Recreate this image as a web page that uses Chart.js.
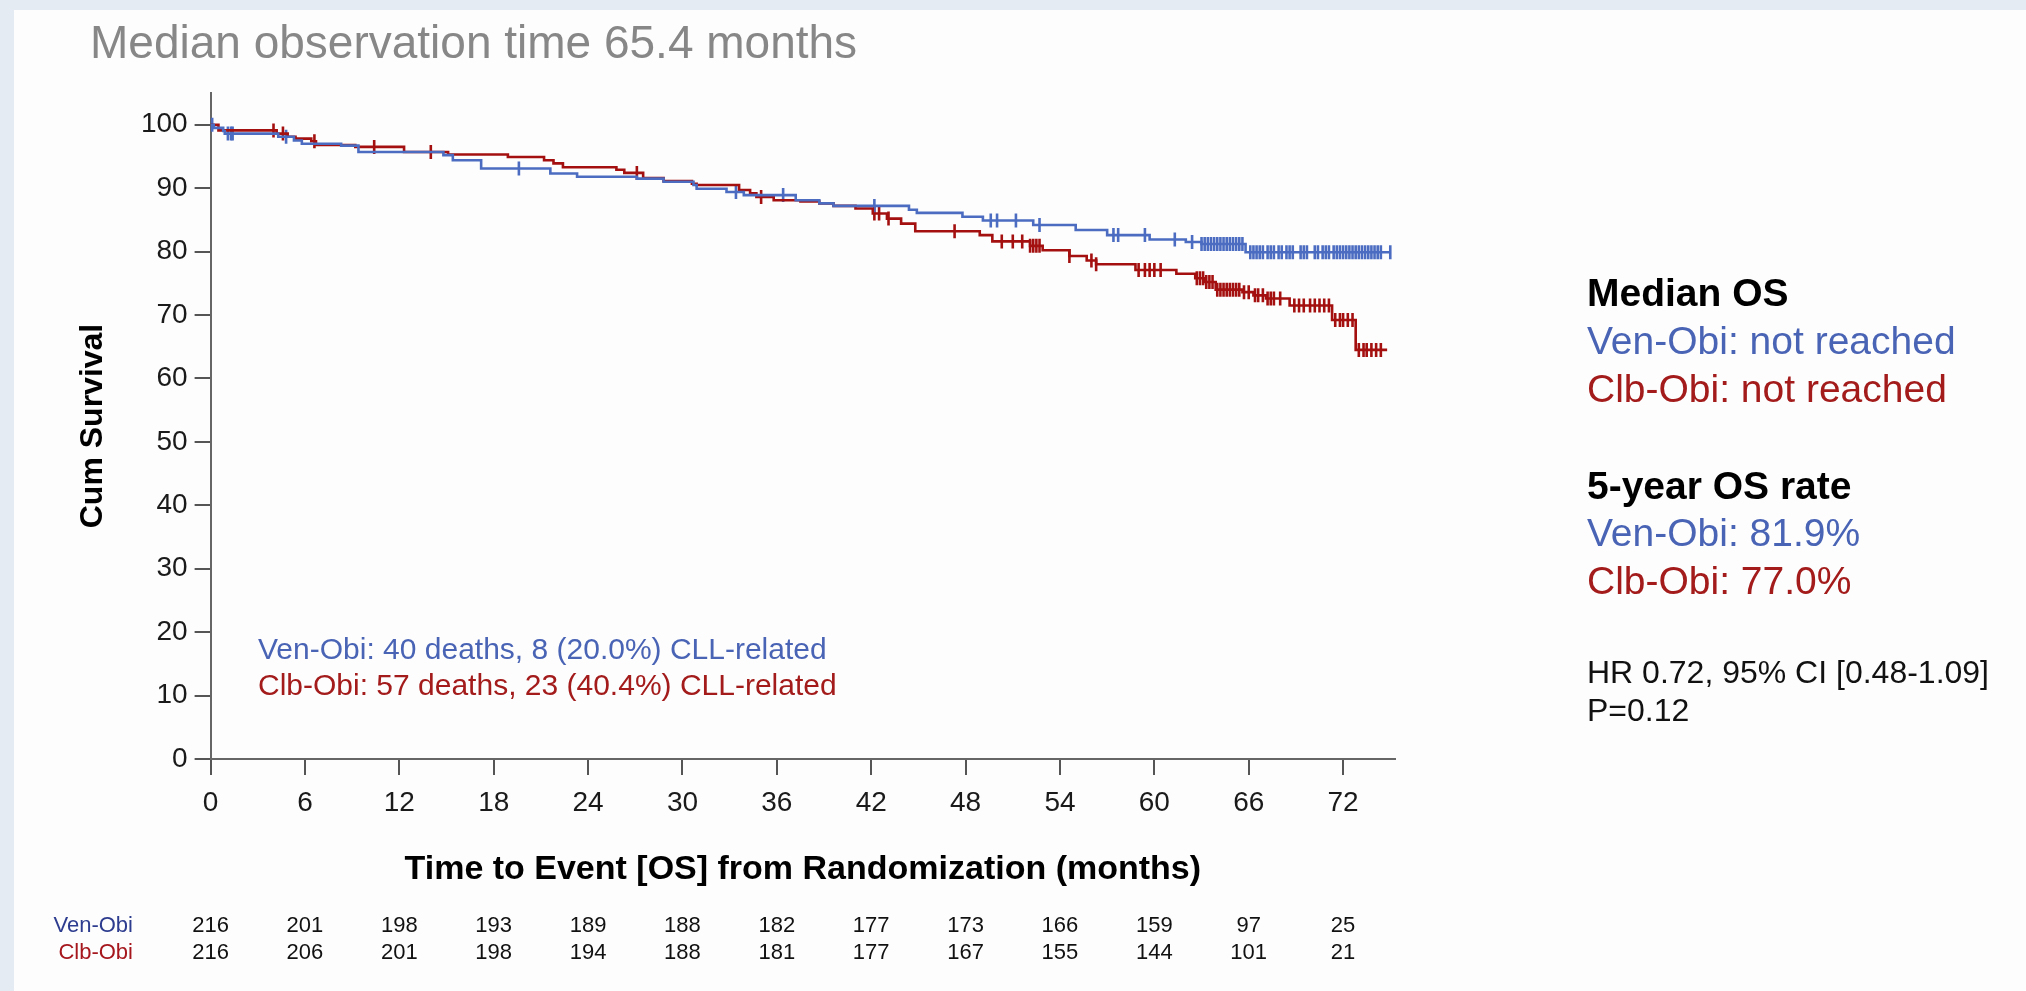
<!DOCTYPE html>
<html lang="en">
<head>
  <meta charset="UTF-8">
  <title>Overall survival Ven-Obi vs Clb-Obi</title>
  <script src="https://cdn.jsdelivr.net/npm/chart.js"></script>
  <style>
    body { margin: 0; width: 2026px; height: 991px; overflow: hidden; background: #e4ebf2;
           font-family: Arial, "Liberation Sans", sans-serif; }
    #slide { position: absolute; left: 14px; top: 10px; right: 0; bottom: 0; background: #fdfdfd; }
    #km { position: absolute; left: 0; top: 0; }
    .txt { position: absolute; white-space: nowrap; line-height: 1; }
    .blue { color: #4a64b5; }
    .red { color: #a31b1b; }
    .risk { position: absolute; white-space: nowrap; line-height: 1; font-size: 22px; color: #111;
            transform: translateX(-50%); }
  </style>
</head>
<body>
  <div id="slide"></div>
  <canvas id="km" width="2026" height="991"></canvas>

  <div class="txt" style="left:90px; top:19px; font-size:46px; color:#878787;">Median observation time 65.4 months</div>

  <div class="txt blue" style="left:258px; top:634px; font-size:30px;">Ven-Obi: 40 deaths, 8 (20.0%) CLL-related</div>
  <div class="txt red" style="left:258px; top:670px; font-size:30px;">Clb-Obi: 57 deaths, 23 (40.4%) CLL-related</div>

  <div class="txt" style="left:1587px; top:273px; font-size:39px; font-weight:bold; color:#000;">Median OS</div>
  <div class="txt blue" style="left:1587px; top:321px; font-size:39px;">Ven-Obi: not reached</div>
  <div class="txt red" style="left:1587px; top:369px; font-size:39px;">Clb-Obi: not reached</div>
  <div class="txt" style="left:1587px; top:466px; font-size:39px; font-weight:bold; color:#000;">5-year OS rate</div>
  <div class="txt blue" style="left:1587px; top:513px; font-size:39px;">Ven-Obi: 81.9%</div>
  <div class="txt red" style="left:1587px; top:561px; font-size:39px;">Clb-Obi: 77.0%</div>
  <div class="txt" style="left:1587px; top:656px; font-size:32px; color:#111;">HR 0.72, 95% CI [0.48-1.09]</div>
  <div class="txt" style="left:1587px; top:694px; font-size:32px; color:#111;">P=0.12</div>

  <div class="txt" style="right:1893px; top:914px; font-size:22px; color:#2d3c8e;">Ven-Obi</div>
  <div class="txt" style="right:1893px; top:941px; font-size:22px; color:#a5161d;">Clb-Obi</div>
  <div id="riskRows"></div>

  <script>
    // Kaplan-Meier steps: time of each drop (months) and survival (%) after it
    const venTimes = [0, 0.2, 0.8, 0.9, 4.3, 5.3, 5.8, 8.3, 9.4, 14.8, 15.4, 17.2, 21.6, 23.3, 27.1, 28.8, 30.7, 30.9,
      32.8, 33.9, 37.2, 38.7, 39.6, 44.4, 44.9, 47.8, 49.1, 52.3, 55.0, 57.0, 59.7, 62.0, 63.0, 65.8, 75.0];
    const venSurv = [100, 99.5, 99.0, 98.6, 98.1, 97.5, 97.0, 96.7, 95.7, 95.2, 94.4, 93.1, 92.3, 91.8, 91.5, 91.0, 90.5, 89.9,
      89.4, 88.9, 88.1, 87.6, 87.2, 86.6, 86.1, 85.5, 84.9, 84.2, 83.4, 82.6, 81.9, 81.5, 81.2, 79.9, 79.9];

    const clbTimes = [0, 0.5, 4.2, 4.9, 5.4, 6.4, 6.7, 9.2, 12.3, 15.1, 18.9, 21.2, 21.8, 22.4, 25.8, 26.3, 27.5, 28.8,
      30.6, 30.9, 33.6, 34.3, 34.7, 35.8, 37.5, 38.7, 39.6, 41.0, 42.1, 43.0, 43.9, 44.8, 48.9, 49.7, 52.1, 52.9,
      54.6, 55.7, 56.3, 58.8, 61.4, 62.6, 63.2, 63.9, 65.6, 66.3, 67.1, 68.6, 71.3, 72.8, 74.8];
    const clbSurv = [100, 99.1, 98.6, 98.1, 97.8, 97.4, 96.8, 96.5, 95.7, 95.3, 94.9, 94.4, 93.9, 93.3, 92.9, 92.4, 91.6, 91.1,
      90.7, 90.5, 89.7, 89.2, 88.6, 88.1, 87.9, 87.6, 87.2, 86.8, 86.0, 85.2, 84.4, 83.2, 82.6, 81.6, 80.9, 80.2,
      79.3, 78.6, 78.0, 77.1, 76.5, 75.8, 75.2, 74.0, 73.6, 73.1, 72.6, 71.5, 69.2, 64.5, 64.5];

    // censored patients (months)
    const venCensor = [0.1, 1.1, 1.3, 1.4, 4.8, 19.6, 33.4, 36.4, 42.2, 49.6, 50.0, 51.2, 52.7, 57.4, 57.7, 59.4, 61.3,
      62.4, 63.0, 63.2, 63.4, 63.6, 63.8, 64.0, 64.2, 64.4, 64.6, 64.8, 65.0, 65.2, 65.4, 65.6, 66.1, 66.3, 66.5,
      66.7, 66.9, 67.2, 67.4, 67.6, 67.9, 68.1, 68.4, 68.6, 68.8, 69.3, 69.5, 69.7, 70.2, 70.4, 70.7, 70.9, 71.1,
      71.4, 71.6, 71.8, 72.0, 72.2, 72.4, 72.6, 72.8, 73.0, 73.2, 73.4, 73.6, 73.8, 74.0, 74.2, 74.4, 75.0];
    const clbCensor = [4.0, 4.6, 6.6, 10.4, 14.0, 27.1, 35.0, 42.2, 42.5, 43.1, 47.3, 50.3, 51.0, 51.6, 52.1, 52.3, 52.5,
      52.7, 54.6, 56.0, 56.3, 59.0, 59.4, 59.7, 60.0, 60.4, 62.7, 62.9, 63.1, 63.3, 63.5, 63.7, 64.0, 64.2, 64.4,
      64.6, 64.8, 65.0, 65.2, 65.4, 65.7, 66.0, 66.4, 66.6, 66.9, 67.2, 67.4, 67.6, 68.0, 68.9, 69.2, 69.5, 69.9,
      70.2, 70.5, 70.8, 71.1, 71.5, 71.8, 72.0, 72.3, 72.6, 73.0, 73.3, 73.5, 73.8, 74.1, 74.4];

    // numbers at risk
    const riskTimes = [0, 6, 12, 18, 24, 30, 36, 42, 48, 54, 60, 66, 72];
    const venRisk = [216, 201, 198, 193, 189, 188, 182, 177, 173, 166, 159, 97, 25];
    const clbRisk = [216, 206, 201, 198, 194, 188, 181, 177, 167, 155, 144, 101, 21];

    const blue = '#4b6cc1';
    const red = '#a3100f';

    function steps(times, surv) {
      return times.map((t, i) => ({ x: t, y: surv[i] }));
    }
    // survival value of the step curve at time t (for placing censor ticks)
    function survAt(times, surv, t) {
      let v = surv[0];
      for (let i = 0; i < times.length; i++) {
        if (times[i] <= t) v = surv[i];
      }
      return v;
    }
    function censorPts(c, times, surv) {
      return c.map(t => ({ x: t, y: survAt(times, surv, t) }));
    }

    const riskPlugin = {
      id: 'riskTable',
      afterRender(chart) {
        if (chart._riskDone) return;
        chart._riskDone = true;
        const box = document.getElementById('riskRows');
        const xs = chart.scales.x;
        riskTimes.forEach((t, i) => {
          const px = xs.getPixelForValue(t);
          [[venRisk[i], 914], [clbRisk[i], 941]].forEach(([n, top]) => {
            const d = document.createElement('div');
            d.className = 'risk';
            d.style.left = px + 'px';
            d.style.top = top + 'px';
            d.textContent = n;
            box.appendChild(d);
          });
        });
      }
    };

    const ctx = document.getElementById('km').getContext('2d');
    new Chart(ctx, {
      type: 'line',
      data: {
        datasets: [
          { label: 'Ven-Obi', data: steps(venTimes, venSurv), borderColor: blue, borderWidth: 2.6,
            stepped: true, pointRadius: 0, fill: false },
          { label: 'Clb-Obi', data: steps(clbTimes, clbSurv), borderColor: red, borderWidth: 2.6,
            stepped: true, pointRadius: 0, fill: false },
          { label: 'Ven-Obi censored', data: censorPts(venCensor, venTimes, venSurv), showLine: false,
            pointStyle: 'line', rotation: 90, pointRadius: 7, pointBorderWidth: 2.6, borderColor: blue,
            pointBorderColor: blue },
          { label: 'Clb-Obi censored', data: censorPts(clbCensor, clbTimes, clbSurv), showLine: false,
            pointStyle: 'line', rotation: 90, pointRadius: 7, pointBorderWidth: 2.6, borderColor: red,
            pointBorderColor: red }
        ]
      },
      options: {
        responsive: false,
        animation: false,
        font: { family: 'Arial, "Liberation Sans", sans-serif' },
        layout: { padding: { left: 60, top: 93, right: 2026 - 1395, bottom: 0 } },
        plugins: { legend: { display: false }, tooltip: { enabled: false } },
        scales: {
          x: {
            type: 'linear', min: 0, max: 75.3,
            afterFit: s => { s.height = 232; },
            afterBuildTicks: s => { s.ticks = s.ticks.filter(t => t.value <= 72); },
            ticks: { stepSize: 6, includeBounds: false, autoSkip: false, color: '#1a1a1a', font: { size: 28 },
              padding: 11, maxRotation: 0 },
            grid: { drawOnChartArea: false, drawTicks: true, tickLength: 16, color: '#555', lineWidth: 2 },
            border: { display: true, color: '#666', width: 2 },
            title: { display: true, text: 'Time to Event [OS] from Randomization (months)', color: '#000',
              font: { size: 34, weight: 'bold' }, padding: { top: 0, bottom: 101 } }
          },
          y: {
            min: 0, max: 105,
            afterFit: s => { s.width = 150.6; },
            afterBuildTicks: s => { s.ticks = s.ticks.filter(t => t.value <= 100); },
            ticks: { stepSize: 10, includeBounds: false, autoSkip: false, color: '#1a1a1a', font: { size: 28 },
              padding: 7 },
            grid: { drawOnChartArea: false, drawTicks: true, tickLength: 16, color: '#555', lineWidth: 2 },
            border: { display: true, color: '#666', width: 2 },
            title: { display: true, text: 'Cum Survival', color: '#000',
              font: { size: 32, weight: 'bold' }, padding: { top: 14, bottom: 0 } }
          }
        }
      },
      plugins: [riskPlugin]
    });
  </script>
</body>
</html>
